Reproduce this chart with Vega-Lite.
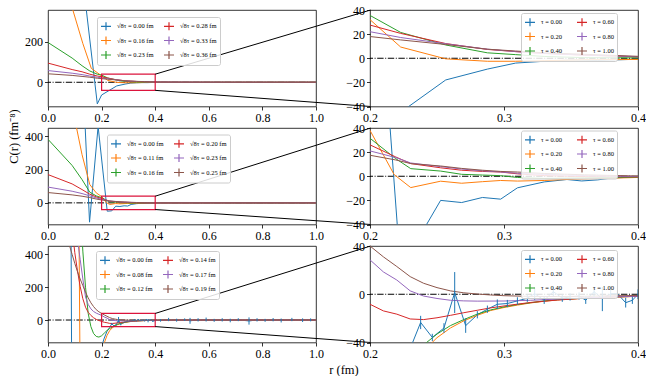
{
"$schema": "https://vega.github.io/schema/vega-lite/v6.json",
"padding": {"left": 7, "top": 3, "right": 0, "bottom": 0},
"config": {
 "font": "Liberation Serif",
 "view": {"stroke": "black", "strokeWidth": 0.8},
 "axis": {"labelFont": "Liberation Serif", "labelFontSize": 12, "labelColor": "black", "tickColor": "black", "tickSize": 3.5, "tickWidth": 0.8, "domain": false, "grid": false, "titleFont": "Liberation Serif", "titleFontSize": 12.5, "titleFontWeight": "normal", "titleColor": "black", "labelPadding": 2, "labelFlush": false, "labelOverlap": false},
 "legend": {"labelFont": "Liberation Serif", "labelFontSize": 6.5, "labelColor": "black", "symbolType": "M-1,0H1M0,-0.8V0.8", "symbolSize": 100, "symbolStrokeWidth": 1.2, "columns": 2, "rowPadding": 0.5, "padding": 3, "fillColor": "rgba(255,255,255,0.85)", "strokeColor": "#cccccc", "cornerRadius": 2, "labelOffset": 5, "labelLimit": 0, "orient": "none"}
},
"columns": 2,
"spacing": {"row": 21, "column": 54},
"bounds": "flush",
"resolve": {"scale": {"color": "independent"}, "legend": {"color": "independent"}},
"datasets": {
 "r1": [
  {"t":"0.00","r":0,"C":9000},{"t":"0.00","r":0.09,"C":3000},{"t":"0.00","r":0.127,"C":540},{"t":"0.00","r":0.184,"C":-107},{"t":"0.00","r":0.2,"C":-63},{"t":"0.00","r":0.2565,"C":-18},{"t":"0.00","r":0.2876,"C":-9},{"t":"0.00","r":0.3087,"C":-4},{"t":"0.00","r":0.33,"C":-2.5},{"t":"0.00","r":0.35,"C":-1.5},{"t":"0.00","r":0.37,"C":-1.8},{"t":"0.00","r":0.4,"C":-0.8},{"t":"0.00","r":0.45,"C":-0.5},{"t":"0.00","r":0.5,"C":-0.3},{"t":"0.00","r":0.6,"C":-0.2},{"t":"0.00","r":0.7,"C":-0.1},{"t":"0.00","r":0.8,"C":0},{"t":"0.00","r":1,"C":0},
  {"t":"0.20","r":0,"C":2500},{"t":"0.20","r":0.09,"C":370},{"t":"0.20","r":0.13,"C":192},{"t":"0.20","r":0.1616,"C":69},{"t":"0.20","r":0.2,"C":32},{"t":"0.20","r":0.2229,"C":9.3},{"t":"0.20","r":0.2565,"C":-0.5},{"t":"0.20","r":0.2876,"C":-2.5},{"t":"0.20","r":0.3087,"C":-2.5},{"t":"0.20","r":0.33,"C":-2},{"t":"0.20","r":0.36,"C":-1.3},{"t":"0.20","r":0.4,"C":-1},{"t":"0.20","r":0.5,"C":-0.5},{"t":"0.20","r":0.6,"C":-0.2},{"t":"0.20","r":0.8,"C":0},{"t":"0.20","r":1,"C":0},
  {"t":"0.40","r":0,"C":197},{"t":"0.40","r":0.09,"C":120},{"t":"0.40","r":0.127,"C":82},{"t":"0.40","r":0.156,"C":56},{"t":"0.40","r":0.184,"C":40},{"t":"0.40","r":0.2,"C":35.5},{"t":"0.40","r":0.2229,"C":21.4},{"t":"0.40","r":0.2565,"C":11},{"t":"0.40","r":0.2876,"C":4.5},{"t":"0.40","r":0.3087,"C":3},{"t":"0.40","r":0.33,"C":1.5},{"t":"0.40","r":0.36,"C":0.5},{"t":"0.40","r":0.4,"C":0.3},{"t":"0.40","r":0.5,"C":0.1},{"t":"0.40","r":0.7,"C":0},{"t":"0.40","r":1,"C":0},
  {"t":"0.60","r":0,"C":95},{"t":"0.60","r":0.09,"C":63},{"t":"0.60","r":0.127,"C":52},{"t":"0.60","r":0.156,"C":40},{"t":"0.60","r":0.184,"C":31},{"t":"0.60","r":0.2,"C":27.5},{"t":"0.60","r":0.2229,"C":20.6},{"t":"0.60","r":0.2565,"C":12.2},{"t":"0.60","r":0.2876,"C":7.3},{"t":"0.60","r":0.3087,"C":5.5},{"t":"0.60","r":0.33,"C":4},{"t":"0.60","r":0.36,"C":2.5},{"t":"0.60","r":0.4,"C":1.2},{"t":"0.60","r":0.5,"C":0.4},{"t":"0.60","r":0.7,"C":0.1},{"t":"0.60","r":1,"C":0},
  {"t":"0.80","r":0,"C":58},{"t":"0.80","r":0.09,"C":45},{"t":"0.80","r":0.127,"C":38},{"t":"0.80","r":0.156,"C":31},{"t":"0.80","r":0.184,"C":25},{"t":"0.80","r":0.2,"C":22},{"t":"0.80","r":0.2229,"C":17.2},{"t":"0.80","r":0.2565,"C":12},{"t":"0.80","r":0.2876,"C":7.5},{"t":"0.80","r":0.3087,"C":5.5},{"t":"0.80","r":0.33,"C":4},{"t":"0.80","r":0.36,"C":2.7},{"t":"0.80","r":0.4,"C":1.3},{"t":"0.80","r":0.5,"C":0.5},{"t":"0.80","r":0.7,"C":0.1},{"t":"0.80","r":1,"C":0},
  {"t":"1.00","r":0,"C":42},{"t":"1.00","r":0.09,"C":34},{"t":"1.00","r":0.127,"C":29},{"t":"1.00","r":0.156,"C":25},{"t":"1.00","r":0.184,"C":20},{"t":"1.00","r":0.2,"C":18},{"t":"1.00","r":0.2229,"C":15.2},{"t":"1.00","r":0.2565,"C":11.4},{"t":"1.00","r":0.2876,"C":7.5},{"t":"1.00","r":0.3087,"C":6},{"t":"1.00","r":0.33,"C":4.5},{"t":"1.00","r":0.36,"C":3.3},{"t":"1.00","r":0.4,"C":1.6},{"t":"1.00","r":0.5,"C":0.6},{"t":"1.00","r":0.7,"C":0.1},{"t":"1.00","r":1,"C":0}
 ],
 "r2": [
  {"t":"0.00","r":0,"C":9000},{"t":"0.00","r":0.09,"C":3000},{"t":"0.00","r":0.127,"C":866},{"t":"0.00","r":0.155,"C":-116},{"t":"0.00","r":0.187,"C":460},{"t":"0.00","r":0.221,"C":-50},{"t":"0.00","r":0.238,"C":-48},{"t":"0.00","r":0.2527,"C":-20},{"t":"0.00","r":0.2684,"C":-21.8},{"t":"0.00","r":0.2839,"C":-17.6},{"t":"0.00","r":0.2975,"C":-19},{"t":"0.00","r":0.31,"C":-9.6},{"t":"0.00","r":0.33,"C":-4.7},{"t":"0.00","r":0.347,"C":-2.7},{"t":"0.00","r":0.358,"C":-3.9},{"t":"0.00","r":0.37,"C":-3},{"t":"0.00","r":0.38,"C":-1.5},{"t":"0.00","r":0.4,"C":-0.5},{"t":"0.00","r":0.5,"C":-0.2},{"t":"0.00","r":0.7,"C":0},{"t":"0.00","r":1,"C":0},
  {"t":"0.20","r":0,"C":3000},{"t":"0.20","r":0.09,"C":580},{"t":"0.20","r":0.127,"C":290},{"t":"0.20","r":0.156,"C":110},{"t":"0.20","r":0.18,"C":60},{"t":"0.20","r":0.2,"C":38},{"t":"0.20","r":0.218,"C":1.4},{"t":"0.20","r":0.2304,"C":-9.4},{"t":"0.20","r":0.2527,"C":-4.1},{"t":"0.20","r":0.2684,"C":-5.8},{"t":"0.20","r":0.2839,"C":-4.5},{"t":"0.20","r":0.2975,"C":-3.5},{"t":"0.20","r":0.31,"C":-4},{"t":"0.20","r":0.33,"C":-3.5},{"t":"0.20","r":0.35,"C":-2.5},{"t":"0.20","r":0.4,"C":-1},{"t":"0.20","r":0.5,"C":-0.3},{"t":"0.20","r":0.7,"C":0},{"t":"0.20","r":1,"C":0},
  {"t":"0.40","r":0,"C":382},{"t":"0.40","r":0.09,"C":225},{"t":"0.40","r":0.127,"C":140},{"t":"0.40","r":0.156,"C":64},{"t":"0.40","r":0.18,"C":42},{"t":"0.40","r":0.2,"C":31.5},{"t":"0.40","r":0.2192,"C":14.6},{"t":"0.40","r":0.2304,"C":6.3},{"t":"0.40","r":0.2527,"C":4.3},{"t":"0.40","r":0.2684,"C":1.6},{"t":"0.40","r":0.2839,"C":1},{"t":"0.40","r":0.2975,"C":0.5},{"t":"0.40","r":0.31,"C":-1},{"t":"0.40","r":0.33,"C":-1.8},{"t":"0.40","r":0.36,"C":-1.3},{"t":"0.40","r":0.4,"C":-0.7},{"t":"0.40","r":0.5,"C":-0.2},{"t":"0.40","r":0.7,"C":0},{"t":"0.40","r":1,"C":0},
  {"t":"0.60","r":0,"C":170},{"t":"0.60","r":0.09,"C":114},{"t":"0.60","r":0.127,"C":80},{"t":"0.60","r":0.156,"C":52},{"t":"0.60","r":0.18,"C":36},{"t":"0.60","r":0.2,"C":26},{"t":"0.60","r":0.2192,"C":16},{"t":"0.60","r":0.2304,"C":10.5},{"t":"0.60","r":0.2527,"C":7},{"t":"0.60","r":0.2684,"C":5},{"t":"0.60","r":0.2839,"C":4},{"t":"0.60","r":0.2975,"C":3.5},{"t":"0.60","r":0.31,"C":2},{"t":"0.60","r":0.33,"C":0.5},{"t":"0.60","r":0.36,"C":-0.3},{"t":"0.60","r":0.4,"C":-0.5},{"t":"0.60","r":0.5,"C":-0.2},{"t":"0.60","r":0.7,"C":0},{"t":"0.60","r":1,"C":0},
  {"t":"0.80","r":0,"C":95},{"t":"0.80","r":0.09,"C":70},{"t":"0.80","r":0.127,"C":56},{"t":"0.80","r":0.156,"C":42},{"t":"0.80","r":0.18,"C":30},{"t":"0.80","r":0.2,"C":21},{"t":"0.80","r":0.2192,"C":15.5},{"t":"0.80","r":0.2304,"C":11},{"t":"0.80","r":0.2527,"C":8},{"t":"0.80","r":0.2684,"C":6},{"t":"0.80","r":0.2839,"C":4.5},{"t":"0.80","r":0.2975,"C":3.5},{"t":"0.80","r":0.31,"C":2.5},{"t":"0.80","r":0.33,"C":1.5},{"t":"0.80","r":0.36,"C":0.5},{"t":"0.80","r":0.4,"C":-0.3},{"t":"0.80","r":0.5,"C":-0.1},{"t":"0.80","r":0.7,"C":0},{"t":"0.80","r":1,"C":0},
  {"t":"1.00","r":0,"C":62},{"t":"1.00","r":0.09,"C":48},{"t":"1.00","r":0.127,"C":40},{"t":"1.00","r":0.156,"C":32},{"t":"1.00","r":0.18,"C":23},{"t":"1.00","r":0.2,"C":17.4},{"t":"1.00","r":0.2192,"C":13.5},{"t":"1.00","r":0.2304,"C":10.5},{"t":"1.00","r":0.2527,"C":8.5},{"t":"1.00","r":0.2684,"C":6.5},{"t":"1.00","r":0.2839,"C":5},{"t":"1.00","r":0.2975,"C":4},{"t":"1.00","r":0.31,"C":3.5},{"t":"1.00","r":0.33,"C":2.3},{"t":"1.00","r":0.36,"C":1.2},{"t":"1.00","r":0.4,"C":0.2},{"t":"1.00","r":0.5,"C":0},{"t":"1.00","r":1,"C":0}
 ],
 "r3": [
  {"t":"0.00","r":0.06,"C":8000},{"t":"0.00","r":0.085,"C":900},{"t":"0.00","r":0.09,"C":-900},{"t":"0.00","r":0.12,"C":-2500},{"t":"0.00","r":0.16,"C":-900},{"t":"0.00","r":0.19,"C":-280},{"t":"0.00","r":0.2,"C":-160},{"t":"0.00","r":0.21,"C":-110},{"t":"0.00","r":0.22,"C":-70},{"t":"0.00","r":0.23,"C":-45},{"t":"0.00","r":0.2378,"C":-23.4},{"t":"0.00","r":0.2465,"C":-35.8},{"t":"0.00","r":0.2552,"C":-28},{"t":"0.00","r":0.2632,"C":1.4},{"t":"0.00","r":0.2714,"C":-26},{"t":"0.00","r":0.2801,"C":-17},{"t":"0.00","r":0.2876,"C":-12.4},{"t":"0.00","r":0.295,"C":-8.3},{"t":"0.00","r":0.3025,"C":-7.7},{"t":"0.00","r":0.31,"C":-5.5},{"t":"0.00","r":0.3174,"C":-3.3},{"t":"0.00","r":0.3229,"C":0.5},{"t":"0.00","r":0.33,"C":-5},{"t":"0.00","r":0.3368,"C":2.2},{"t":"0.00","r":0.3435,"C":-3.3},{"t":"0.00","r":0.3493,"C":-2.2},{"t":"0.00","r":0.356,"C":-1.4},{"t":"0.00","r":0.361,"C":-5},{"t":"0.00","r":0.3672,"C":2.2},{"t":"0.00","r":0.3734,"C":-4},{"t":"0.00","r":0.3796,"C":0.5},{"t":"0.00","r":0.3846,"C":0.5},{"t":"0.00","r":0.3908,"C":-7},{"t":"0.00","r":0.3958,"C":-5},{"t":"0.00","r":0.4,"C":0},{"t":"0.00","r":0.42,"C":-2},{"t":"0.00","r":0.45,"C":3},{"t":"0.00","r":0.48,"C":-1},{"t":"0.00","r":0.51,"C":2},{"t":"0.00","r":0.53,"C":-5},{"t":"0.00","r":0.56,"C":1},{"t":"0.00","r":0.59,"C":3},{"t":"0.00","r":0.62,"C":-2},{"t":"0.00","r":0.65,"C":1},{"t":"0.00","r":0.68,"C":-3},{"t":"0.00","r":0.71,"C":2},{"t":"0.00","r":0.75,"C":-6},{"t":"0.00","r":0.78,"C":1},{"t":"0.00","r":0.81,"C":-2},{"t":"0.00","r":0.84,"C":2},{"t":"0.00","r":0.87,"C":-3},{"t":"0.00","r":0.91,"C":3},{"t":"0.00","r":0.95,"C":-1},{"t":"0.00","r":0.98,"C":1},{"t":"0.00","r":1,"C":0},
  {"t":"0.20","r":0.1,"C":3000},{"t":"0.20","r":0.115,"C":700},{"t":"0.20","r":0.12,"C":-400},{"t":"0.20","r":0.15,"C":-900},{"t":"0.20","r":0.18,"C":-500},{"t":"0.20","r":0.2,"C":-220},{"t":"0.20","r":0.21,"C":-140},{"t":"0.20","r":0.22,"C":-95},{"t":"0.20","r":0.23,"C":-65},{"t":"0.20","r":0.24,"C":-47},{"t":"0.20","r":0.25,"C":-36},{"t":"0.20","r":0.26,"C":-28},{"t":"0.20","r":0.27,"C":-22},{"t":"0.20","r":0.28,"C":-17.5},{"t":"0.20","r":0.29,"C":-13.5},{"t":"0.20","r":0.3,"C":-11},{"t":"0.20","r":0.31,"C":-9},{"t":"0.20","r":0.32,"C":-7.2},{"t":"0.20","r":0.33,"C":-5.8},{"t":"0.20","r":0.34,"C":-4.7},{"t":"0.20","r":0.36,"C":-3.3},{"t":"0.20","r":0.38,"C":-2.4},{"t":"0.20","r":0.4,"C":-1.8},{"t":"0.20","r":0.45,"C":-0.8},{"t":"0.20","r":0.5,"C":-0.4},{"t":"0.20","r":0.6,"C":-0.1},{"t":"0.20","r":0.8,"C":0},{"t":"0.20","r":1,"C":0},
  {"t":"0.40","r":0.1,"C":1500},{"t":"0.40","r":0.12,"C":700},{"t":"0.40","r":0.13,"C":420},{"t":"0.40","r":0.14,"C":200},{"t":"0.40","r":0.15,"C":40},{"t":"0.40","r":0.16,"C":-40},{"t":"0.40","r":0.17,"C":-82},{"t":"0.40","r":0.18,"C":-100},{"t":"0.40","r":0.19,"C":-104},{"t":"0.40","r":0.2,"C":-96},{"t":"0.40","r":0.21,"C":-80},{"t":"0.40","r":0.22,"C":-64},{"t":"0.40","r":0.23,"C":-52},{"t":"0.40","r":0.24,"C":-42},{"t":"0.40","r":0.25,"C":-33},{"t":"0.40","r":0.26,"C":-26},{"t":"0.40","r":0.27,"C":-21},{"t":"0.40","r":0.28,"C":-16.5},{"t":"0.40","r":0.29,"C":-13},{"t":"0.40","r":0.3,"C":-10.5},{"t":"0.40","r":0.31,"C":-8.5},{"t":"0.40","r":0.32,"C":-7},{"t":"0.40","r":0.33,"C":-5.5},{"t":"0.40","r":0.34,"C":-4.5},{"t":"0.40","r":0.36,"C":-3.2},{"t":"0.40","r":0.38,"C":-2.3},{"t":"0.40","r":0.4,"C":-1.7},{"t":"0.40","r":0.45,"C":-0.8},{"t":"0.40","r":0.5,"C":-0.4},{"t":"0.40","r":0.6,"C":-0.1},{"t":"0.40","r":0.8,"C":0},{"t":"0.40","r":1,"C":0},
  {"t":"0.60","r":0.09,"C":560},{"t":"0.60","r":0.1,"C":410},{"t":"0.60","r":0.11,"C":300},{"t":"0.60","r":0.12,"C":205},{"t":"0.60","r":0.13,"C":130},{"t":"0.60","r":0.14,"C":78},{"t":"0.60","r":0.15,"C":47},{"t":"0.60","r":0.16,"C":28},{"t":"0.60","r":0.17,"C":14},{"t":"0.60","r":0.18,"C":4},{"t":"0.60","r":0.19,"C":-3},{"t":"0.60","r":0.2,"C":-8.3},{"t":"0.60","r":0.21,"C":-13.8},{"t":"0.60","r":0.22,"C":-16.5},{"t":"0.60","r":0.23,"C":-20.5},{"t":"0.60","r":0.24,"C":-21},{"t":"0.60","r":0.25,"C":-19.5},{"t":"0.60","r":0.26,"C":-17.5},{"t":"0.60","r":0.27,"C":-15.3},{"t":"0.60","r":0.28,"C":-13.3},{"t":"0.60","r":0.29,"C":-11.3},{"t":"0.60","r":0.3,"C":-9.7},{"t":"0.60","r":0.31,"C":-8.2},{"t":"0.60","r":0.32,"C":-6.8},{"t":"0.60","r":0.34,"C":-4.8},{"t":"0.60","r":0.36,"C":-3.3},{"t":"0.60","r":0.38,"C":-2.3},{"t":"0.60","r":0.4,"C":-1.7},{"t":"0.60","r":0.45,"C":-0.8},{"t":"0.60","r":0.5,"C":-0.4},{"t":"0.60","r":0.6,"C":-0.1},{"t":"0.60","r":0.8,"C":0},{"t":"0.60","r":1,"C":0},
  {"t":"0.80","r":0.1,"C":700},{"t":"0.80","r":0.11,"C":490},{"t":"0.80","r":0.12,"C":370},{"t":"0.80","r":0.13,"C":250},{"t":"0.80","r":0.14,"C":140},{"t":"0.80","r":0.15,"C":95},{"t":"0.80","r":0.16,"C":68},{"t":"0.80","r":0.17,"C":52},{"t":"0.80","r":0.18,"C":42},{"t":"0.80","r":0.19,"C":35},{"t":"0.80","r":0.2,"C":28.5},{"t":"0.80","r":0.21,"C":18.5},{"t":"0.80","r":0.22,"C":11.8},{"t":"0.80","r":0.23,"C":2.8},{"t":"0.80","r":0.24,"C":-1.5},{"t":"0.80","r":0.25,"C":-3.5},{"t":"0.80","r":0.26,"C":-5},{"t":"0.80","r":0.27,"C":-5.5},{"t":"0.80","r":0.28,"C":-5.7},{"t":"0.80","r":0.3,"C":-5.6},{"t":"0.80","r":0.32,"C":-5},{"t":"0.80","r":0.34,"C":-4},{"t":"0.80","r":0.36,"C":-3},{"t":"0.80","r":0.38,"C":-2.2},{"t":"0.80","r":0.4,"C":-1.6},{"t":"0.80","r":0.45,"C":-0.8},{"t":"0.80","r":0.5,"C":-0.4},{"t":"0.80","r":0.6,"C":-0.1},{"t":"0.80","r":0.8,"C":0},{"t":"0.80","r":1,"C":0},
  {"t":"1.00","r":0.06,"C":600},{"t":"1.00","r":0.07,"C":520},{"t":"1.00","r":0.08,"C":455},{"t":"1.00","r":0.09,"C":400},{"t":"1.00","r":0.1,"C":345},{"t":"1.00","r":0.11,"C":295},{"t":"1.00","r":0.12,"C":250},{"t":"1.00","r":0.13,"C":210},{"t":"1.00","r":0.14,"C":170},{"t":"1.00","r":0.15,"C":135},{"t":"1.00","r":0.16,"C":105},{"t":"1.00","r":0.17,"C":82},{"t":"1.00","r":0.18,"C":63},{"t":"1.00","r":0.19,"C":50},{"t":"1.00","r":0.2,"C":40},{"t":"1.00","r":0.21,"C":31},{"t":"1.00","r":0.22,"C":23},{"t":"1.00","r":0.23,"C":14.6},{"t":"1.00","r":0.24,"C":9.1},{"t":"1.00","r":0.25,"C":5.5},{"t":"1.00","r":0.26,"C":2.8},{"t":"1.00","r":0.27,"C":1.2},{"t":"1.00","r":0.28,"C":0.2},{"t":"1.00","r":0.29,"C":-0.6},{"t":"1.00","r":0.3,"C":-1.2},{"t":"1.00","r":0.32,"C":-1.8},{"t":"1.00","r":0.34,"C":-1.9},{"t":"1.00","r":0.36,"C":-1.7},{"t":"1.00","r":0.38,"C":-1.3},{"t":"1.00","r":0.4,"C":-1},{"t":"1.00","r":0.45,"C":-0.6},{"t":"1.00","r":0.5,"C":-0.3},{"t":"1.00","r":0.6,"C":-0.1},{"t":"1.00","r":0.8,"C":0},{"t":"1.00","r":1,"C":0}
 ],
 "e3": [
  {"r":0.2378,"lo":-28.9,"hi":-17.9},{"r":0.2465,"lo":-38.8,"hi":-32.8},{"r":0.2552,"lo":-32,"hi":-24},{"r":0.2632,"lo":-15.6,"hi":18.4},{"r":0.2714,"lo":-32,"hi":-20},{"r":0.2801,"lo":-20,"hi":-14},{"r":0.2876,"lo":-15.4,"hi":-9.4},{"r":0.295,"lo":-12.3,"hi":-4.3},{"r":0.3025,"lo":-10.7,"hi":-4.7},{"r":0.31,"lo":-8.5,"hi":-2.5},{"r":0.3174,"lo":-6.3,"hi":-0.3},{"r":0.3229,"lo":-4.5,"hi":5.5},{"r":0.33,"lo":-8,"hi":-2},{"r":0.3368,"lo":-1.8,"hi":6.2},{"r":0.3435,"lo":-6.3,"hi":-0.3},{"r":0.3493,"lo":-5.2,"hi":0.8},{"r":0.356,"lo":-4.4,"hi":1.6},{"r":0.361,"lo":-8,"hi":-2},{"r":0.3672,"lo":-1.8,"hi":6.2},{"r":0.3734,"lo":-14,"hi":6},{"r":0.3796,"lo":-2.5,"hi":3.5},{"r":0.3846,"lo":-2.5,"hi":3.5},{"r":0.3908,"lo":-11,"hi":-3},{"r":0.3958,"lo":-8,"hi":-2},{"r":0.4,"lo":-4,"hi":4},
  {"r":0.42,"lo":-10,"hi":6},{"r":0.45,"lo":-7,"hi":13},{"r":0.48,"lo":-10,"hi":8},{"r":0.51,"lo":-6,"hi":10},{"r":0.53,"lo":-23,"hi":13},{"r":0.56,"lo":-9,"hi":11},{"r":0.59,"lo":-9,"hi":15},{"r":0.62,"lo":-11,"hi":7},{"r":0.65,"lo":-9,"hi":11},{"r":0.68,"lo":-14,"hi":8},{"r":0.71,"lo":-7,"hi":11},{"r":0.75,"lo":-28,"hi":16},{"r":0.78,"lo":-9,"hi":11},{"r":0.81,"lo":-11,"hi":7},{"r":0.84,"lo":-8,"hi":12},{"r":0.87,"lo":-15,"hi":9},{"r":0.91,"lo":-7,"hi":13},{"r":0.95,"lo":-12,"hi":10},{"r":0.98,"lo":-8,"hi":10}
 ]
},
"concat": [
 {"width": 268, "height": 96.5, "layer": [
  {"data": {"values": [{"z": 0}]}, "mark": {"type": "rule", "color": "black", "strokeWidth": 1, "strokeDash": [6.4, 1.6, 1, 1.6]}, "encoding": {"y": {"datum": 0, "type": "quantitative", "scale": {"domain": [-120, 358], "nice": false, "zero": false}, "axis": {"title": null, "values": [0, 200]}}}},
  {"data": {"name": "r1"}, "mark": {"type": "line", "clip": true, "strokeWidth": 1}, "encoding": {
   "x": {"field": "r", "type": "quantitative", "scale": {"domain": [0, 1], "nice": false, "zero": false}, "axis": {"title": null, "values": [0, 0.2, 0.4, 0.6, 0.8, 1], "format": ".1f"}},
   "y": {"field": "C", "type": "quantitative", "scale": {"domain": [-120, 358], "nice": false, "zero": false}, "axis": {"title": null, "values": [0, 200]}},
   "color": {"field": "t", "type": "nominal", "scale": {"domain": ["0.00","0.20","0.40","0.60","0.80","1.00"], "range": ["#1f77b4","#ff7f0e","#2ca02c","#d62728","#9467bd","#8c564b"]},
    "legend": {"title": null, "legendX": 49, "legendY": 7, "columnPadding": 7, "labelExpr": "datum.label=='0.00'?'√8τ = 0.00 fm':datum.label=='0.20'?'√8τ = 0.16 fm':datum.label=='0.40'?'√8τ = 0.23 fm':datum.label=='0.60'?'√8τ = 0.28 fm':datum.label=='0.80'?'√8τ = 0.33 fm':'√8τ = 0.36 fm'"}}}},
  {"data": {"values": [{"a": 0.2, "b": 0.4, "c": -40, "d": 40}]}, "mark": {"type": "rect", "fill": "transparent", "stroke": "#dc143c", "strokeWidth": 1.2}, "encoding": {"x": {"field": "a", "type": "quantitative", "axis": {"title": null}}, "x2": {"field": "b"}, "y": {"field": "c", "type": "quantitative", "axis": {"title": null}}, "y2": {"field": "d"}}},
  {"data": {"values": [{"a": 0.4, "c": 40, "b": 1.2037, "d": 358}, {"a": 0.4, "c": -40, "b": 1.2037, "d": -120}]}, "mark": {"type": "rule", "color": "black", "strokeWidth": 1, "clip": false}, "encoding": {"x": {"field": "a", "type": "quantitative", "axis": {"title": null}}, "x2": {"field": "b"}, "y": {"field": "c", "type": "quantitative", "axis": {"title": null}}, "y2": {"field": "d"}}}
 ]},
 {"width": 268, "height": 96.5, "layer": [
  {"data": {"values": [{"z": 0}]}, "mark": {"type": "rule", "color": "black", "strokeWidth": 1, "strokeDash": [6.4, 1.6, 1, 1.6]}, "encoding": {"y": {"datum": 0, "type": "quantitative", "scale": {"domain": [-40, 40], "nice": false, "zero": false}, "axis": {"title": null, "values": [-40, -20, 0, 20, 40]}}}},
  {"data": {"name": "r1"}, "mark": {"type": "line", "clip": true, "strokeWidth": 1}, "encoding": {
   "x": {"field": "r", "type": "quantitative", "scale": {"domain": [0.2, 0.4], "nice": false, "zero": false}, "axis": {"title": null, "values": [0.2, 0.3, 0.4], "format": ".1f"}},
   "y": {"field": "C", "type": "quantitative", "scale": {"domain": [-40, 40], "nice": false, "zero": false}, "axis": {"title": null, "values": [-40, -20, 0, 20, 40]}},
   "color": {"field": "t", "type": "nominal", "scale": {"domain": ["0.00","0.20","0.40","0.60","0.80","1.00"], "range": ["#1f77b4","#ff7f0e","#2ca02c","#d62728","#9467bd","#8c564b"]},
    "legend": {"title": null, "legendX": 151, "legendY": 3, "columnPadding": 12, "labelExpr": "'τ = ' + datum.label"}}}}
 ]},
 {"width": 268, "height": 96.5, "layer": [
  {"data": {"values": [{"z": 0}]}, "mark": {"type": "rule", "color": "black", "strokeWidth": 1, "strokeDash": [6.4, 1.6, 1, 1.6]}, "encoding": {"y": {"datum": 0, "type": "quantitative", "scale": {"domain": [-130, 450], "nice": false, "zero": false}, "axis": {"title": "C(r) (fm⁻⁸)", "titleY": 8, "values": [0, 200, 400]}}}},
  {"data": {"name": "r2"}, "mark": {"type": "line", "clip": true, "strokeWidth": 1}, "encoding": {
   "x": {"field": "r", "type": "quantitative", "scale": {"domain": [0, 1], "nice": false, "zero": false}, "axis": {"title": null, "values": [0, 0.2, 0.4, 0.6, 0.8, 1], "format": ".1f"}},
   "y": {"field": "C", "type": "quantitative", "scale": {"domain": [-130, 450], "nice": false, "zero": false}, "axis": {"title": "C(r) (fm⁻⁸)", "titleY": 8, "values": [0, 200, 400]}},
   "color": {"field": "t", "type": "nominal", "scale": {"domain": ["0.00","0.20","0.40","0.60","0.80","1.00"], "range": ["#1f77b4","#ff7f0e","#2ca02c","#d62728","#9467bd","#8c564b"]},
    "legend": {"title": null, "legendX": 59, "legendY": 6.5, "columnPadding": 7, "labelExpr": "datum.label=='0.00'?'√8τ = 0.00 fm':datum.label=='0.20'?'√8τ = 0.11 fm':datum.label=='0.40'?'√8τ = 0.16 fm':datum.label=='0.60'?'√8τ = 0.20 fm':datum.label=='0.80'?'√8τ = 0.23 fm':'√8τ = 0.25 fm'"}}}},
  {"data": {"values": [{"a": 0.2, "b": 0.4, "c": -40, "d": 40}]}, "mark": {"type": "rect", "fill": "transparent", "stroke": "#dc143c", "strokeWidth": 1.2}, "encoding": {"x": {"field": "a", "type": "quantitative", "axis": {"title": null}}, "x2": {"field": "b"}, "y": {"field": "c", "type": "quantitative", "axis": {"title": "C(r) (fm⁻⁸)", "titleY": 8}}, "y2": {"field": "d"}}},
  {"data": {"values": [{"a": 0.4, "c": 40, "b": 1.2037, "d": 450}, {"a": 0.4, "c": -40, "b": 1.2037, "d": -130}]}, "mark": {"type": "rule", "color": "black", "strokeWidth": 1, "clip": false}, "encoding": {"x": {"field": "a", "type": "quantitative", "axis": {"title": null}}, "x2": {"field": "b"}, "y": {"field": "c", "type": "quantitative", "axis": {"title": "C(r) (fm⁻⁸)", "titleY": 8}}, "y2": {"field": "d"}}}
 ]},
 {"width": 268, "height": 96.5, "layer": [
  {"data": {"values": [{"z": 0}]}, "mark": {"type": "rule", "color": "black", "strokeWidth": 1, "strokeDash": [6.4, 1.6, 1, 1.6]}, "encoding": {"y": {"datum": 0, "type": "quantitative", "scale": {"domain": [-40, 40], "nice": false, "zero": false}, "axis": {"title": null, "values": [-40, -20, 0, 20, 40]}}}},
  {"data": {"name": "r2"}, "mark": {"type": "line", "clip": true, "strokeWidth": 1}, "encoding": {
   "x": {"field": "r", "type": "quantitative", "scale": {"domain": [0.2, 0.4], "nice": false, "zero": false}, "axis": {"title": null, "values": [0.2, 0.3, 0.4], "format": ".1f"}},
   "y": {"field": "C", "type": "quantitative", "scale": {"domain": [-40, 40], "nice": false, "zero": false}, "axis": {"title": null, "values": [-40, -20, 0, 20, 40]}},
   "color": {"field": "t", "type": "nominal", "scale": {"domain": ["0.00","0.20","0.40","0.60","0.80","1.00"], "range": ["#1f77b4","#ff7f0e","#2ca02c","#d62728","#9467bd","#8c564b"]},
    "legend": {"title": null, "legendX": 151, "legendY": 2.5, "columnPadding": 12, "labelExpr": "'τ = ' + datum.label"}}}}
 ]},
 {"width": 268, "height": 96.5, "layer": [
  {"data": {"values": [{"z": 0}]}, "mark": {"type": "rule", "color": "black", "strokeWidth": 1, "strokeDash": [6.4, 1.6, 1, 1.6]}, "encoding": {"y": {"datum": 0, "type": "quantitative", "scale": {"domain": [-137, 451], "nice": false, "zero": false}, "axis": {"title": null, "values": [0, 200, 400]}}}},
  {"data": {"name": "r3"}, "mark": {"type": "line", "clip": true, "strokeWidth": 1}, "encoding": {
   "x": {"field": "r", "type": "quantitative", "scale": {"domain": [0, 1], "nice": false, "zero": false}, "axis": {"title": "r (fm)", "titleX": 295.5, "values": [0, 0.2, 0.4, 0.6, 0.8, 1], "format": ".1f"}},
   "y": {"field": "C", "type": "quantitative", "scale": {"domain": [-137, 451], "nice": false, "zero": false}, "axis": {"title": null, "values": [0, 200, 400]}},
   "color": {"field": "t", "type": "nominal", "scale": {"domain": ["0.00","0.20","0.40","0.60","0.80","1.00"], "range": ["#1f77b4","#ff7f0e","#2ca02c","#d62728","#9467bd","#8c564b"]},
    "legend": {"title": null, "legendX": 48, "legendY": 5, "columnPadding": 7, "labelExpr": "datum.label=='0.00'?'√8τ = 0.00 fm':datum.label=='0.20'?'√8τ = 0.08 fm':datum.label=='0.40'?'√8τ = 0.12 fm':datum.label=='0.60'?'√8τ = 0.14 fm':datum.label=='0.80'?'√8τ = 0.17 fm':'√8τ = 0.19 fm'"}}}},
  {"data": {"name": "e3"}, "mark": {"type": "rule", "clip": true, "strokeWidth": 1, "color": "#1f77b4"}, "encoding": {"x": {"field": "r", "type": "quantitative", "axis": {"title": "r (fm)", "titleX": 295.5}}, "y": {"field": "lo", "type": "quantitative", "axis": {"title": null}}, "y2": {"field": "hi"}}},
  {"data": {"values": [{"a": 0.2, "b": 0.4, "c": -40, "d": 40}]}, "mark": {"type": "rect", "fill": "transparent", "stroke": "#dc143c", "strokeWidth": 1.2}, "encoding": {"x": {"field": "a", "type": "quantitative", "axis": {"title": "r (fm)", "titleX": 295.5}}, "x2": {"field": "b"}, "y": {"field": "c", "type": "quantitative", "axis": {"title": null}}, "y2": {"field": "d"}}},
  {"data": {"values": [{"a": 0.4, "c": 40, "b": 1.2037, "d": 451}, {"a": 0.4, "c": -40, "b": 1.2037, "d": -137}]}, "mark": {"type": "rule", "color": "black", "strokeWidth": 1, "clip": false}, "encoding": {"x": {"field": "a", "type": "quantitative", "axis": {"title": "r (fm)", "titleX": 295.5}}, "x2": {"field": "b"}, "y": {"field": "c", "type": "quantitative", "axis": {"title": null}}, "y2": {"field": "d"}}}
 ]},
 {"width": 268, "height": 96.5, "layer": [
  {"data": {"values": [{"z": 0}]}, "mark": {"type": "rule", "color": "black", "strokeWidth": 1, "strokeDash": [6.4, 1.6, 1, 1.6]}, "encoding": {"y": {"datum": 0, "type": "quantitative", "scale": {"domain": [-40, 40], "nice": false, "zero": false}, "axis": {"title": null, "values": [-40, -20, 0, 20, 40]}}}},
  {"data": {"name": "r3"}, "mark": {"type": "line", "clip": true, "strokeWidth": 1}, "encoding": {
   "x": {"field": "r", "type": "quantitative", "scale": {"domain": [0.2, 0.4], "nice": false, "zero": false}, "axis": {"title": null, "values": [0.2, 0.3, 0.4], "format": ".1f"}},
   "y": {"field": "C", "type": "quantitative", "scale": {"domain": [-40, 40], "nice": false, "zero": false}, "axis": {"title": null, "values": [-40, -20, 0, 20, 40]}},
   "color": {"field": "t", "type": "nominal", "scale": {"domain": ["0.00","0.20","0.40","0.60","0.80","1.00"], "range": ["#1f77b4","#ff7f0e","#2ca02c","#d62728","#9467bd","#8c564b"]},
    "legend": {"title": null, "legendX": 151, "legendY": 4, "columnPadding": 12, "labelExpr": "'τ = ' + datum.label"}}}},
  {"data": {"name": "e3"}, "mark": {"type": "rule", "clip": true, "strokeWidth": 1, "color": "#1f77b4"}, "encoding": {"x": {"field": "r", "type": "quantitative", "axis": {"title": null}}, "y": {"field": "lo", "type": "quantitative", "axis": {"title": null}}, "y2": {"field": "hi"}}}
 ]}
]
}
